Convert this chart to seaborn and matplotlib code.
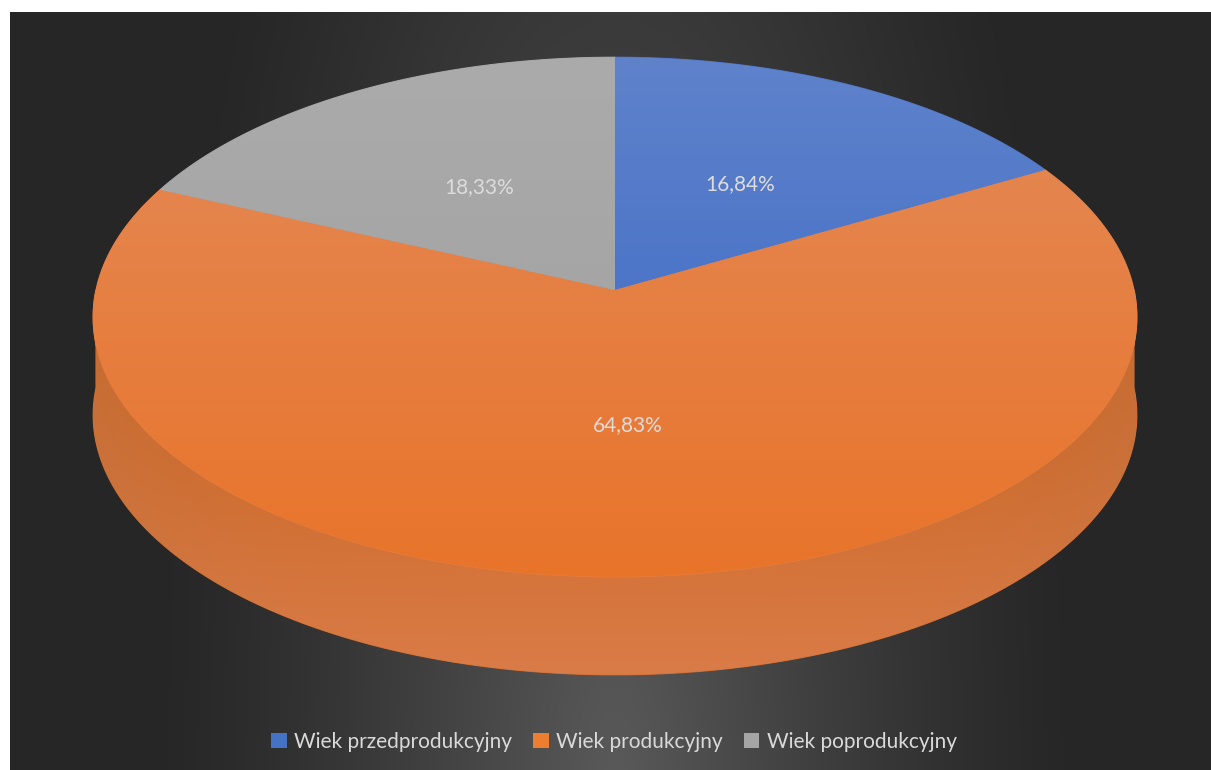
import numpy as np
import matplotlib
matplotlib.use("Agg")
import matplotlib.pyplot as plt
import seaborn as sns
from matplotlib.patches import Polygon, Patch
from matplotlib.colors import to_rgb

# chart data
categories = ["Wiek przedprodukcyjny", "Wiek produkcyjny", "Wiek poprodukcyjny"]
shares = [16.84, 64.83, 18.33]
colors = ["#4472C4", "#ED7D31", "#A5A5A5"]

# top-face gradients (top colour, bottom colour) per slice
top_grad = [("#5F82CB", "#3565C4"), ("#E38A59", "#E9742A"), ("#ABABAB", "#9E9E9E")]

sns.set_theme(style="white")
plt.rcParams["font.family"] = ["Lato", "DejaVu Sans"]

W, H = 1211, 770
fig = plt.figure(figsize=(W / 100, H / 100), dpi=100)
ax = fig.add_axes([0, 0, 1, 1])
ax.set_xlim(0, W)
ax.set_ylim(H, 0)
ax.axis("off")
fig.patch.set_facecolor("white")

# background: dark panel with a soft light spot at bottom centre
bx0, by0 = 10, 12
xx, yy = np.meshgrid(np.arange(bx0, W), np.arange(by0, H))
d = np.sqrt(((xx - 615) / 470.0) ** 2 + ((yy - 800) / 1500.0) ** 2)
f = np.clip(1 - d, 0, 1) ** 1.3
lum = (0x26 + (0x5A - 0x26) * f) / 255.0
bg = np.dstack([lum, lum, lum])
ax.imshow(bg, extent=(bx0, W, H, by0), aspect="auto", zorder=0, interpolation="bilinear")

# perspective projection of the pie disk
CX, CY, A, B, K = 615, 290, 519, 257, 0.104
DEPTH = 98


def project(theta_deg, r=1.0, dy=0.0):
    t = np.radians(theta_deg)
    X, Y = r * np.cos(t), r * np.sin(t)
    w = 1 + K * Y
    return CX + A * X / w, CY - B * Y / w + dy


def mix(c1, c2, t=0.5):
    return tuple((1 - t) * a + t * b for a, b in zip(to_rgb(c1), to_rgb(c2)))


def grad_fill(verts, c_top, c_bot, y0, y1, zorder, hshade=None):
    # solid base underneath hides antialiasing seams of the clipped image
    base = mix(c_top, c_bot)
    ax.add_patch(Polygon(verts, closed=True, facecolor=base, edgecolor=base,
                         lw=0.8, zorder=zorder - 0.5))
    poly = Polygon(verts, closed=True, facecolor="none", edgecolor="none")
    ax.add_patch(poly)
    t = np.linspace(0, 1, 256)[:, None, None]
    img = (1 - t) * np.array(to_rgb(c_top)) + t * np.array(to_rgb(c_bot))
    img = np.repeat(img, 256, axis=1)
    if hshade is not None:
        s = np.abs(np.linspace(-1, 1, 256)) ** 4
        edge = np.array(to_rgb(hshade))
        img = img * (1 - 0.4 * s[None, :, None]) + edge * 0.4 * s[None, :, None]
    xs = [v[0] for v in verts]
    im = ax.imshow(img, extent=(min(xs), max(xs), y1, y0), aspect="auto",
                   zorder=zorder, interpolation="bilinear")
    im.set_clip_path(poly)


# side wall (only the front half is visible, all of it in the orange slice)
th = np.linspace(180, 360, 300)
top_edge = [project(a) for a in th]
bot_edge = [project(a, dy=DEPTH) for a in th[::-1]]
side = top_edge + bot_edge
grad_fill(side, "#C9621C", "#DA7C48", 330, 676, 2, hshade="#C27A50")

# top slices, clockwise from 12 o'clock
start = 90.0
mids = []
for i, v in enumerate(shares):
    sweep = 360 * v / 100.0
    angs = np.linspace(start, start - sweep, 400)
    verts = [(CX, CY)] + [project(a) for a in angs]
    grad_fill(verts, top_grad[i][0], top_grad[i][1], 57, 577, 4)
    mids.append(start - sweep / 2)
    start -= sweep

# data labels
for v, m in zip(shares, mids):
    lx, ly = project(m, r=0.5)
    ax.text(lx, ly, f"{v:.2f}%".replace(".", ","), color="#DCDCDC",
            fontsize=15, ha="center", va="center", zorder=6)

ax.set_xlim(0, W)
ax.set_ylim(H, 0)

# legend
handles = [Patch(facecolor=c, edgecolor="none") for c in colors]
ax.legend(handles, categories, loc="center", bbox_to_anchor=(614, 742),
          bbox_transform=ax.transData, ncol=3, frameon=False, fontsize=15,
          labelcolor="#D9D9D9", handlelength=0.75, handleheight=0.75,
          handletextpad=0.35, columnspacing=1.0)

fig.savefig("out.png", dpi=100, facecolor="white")
